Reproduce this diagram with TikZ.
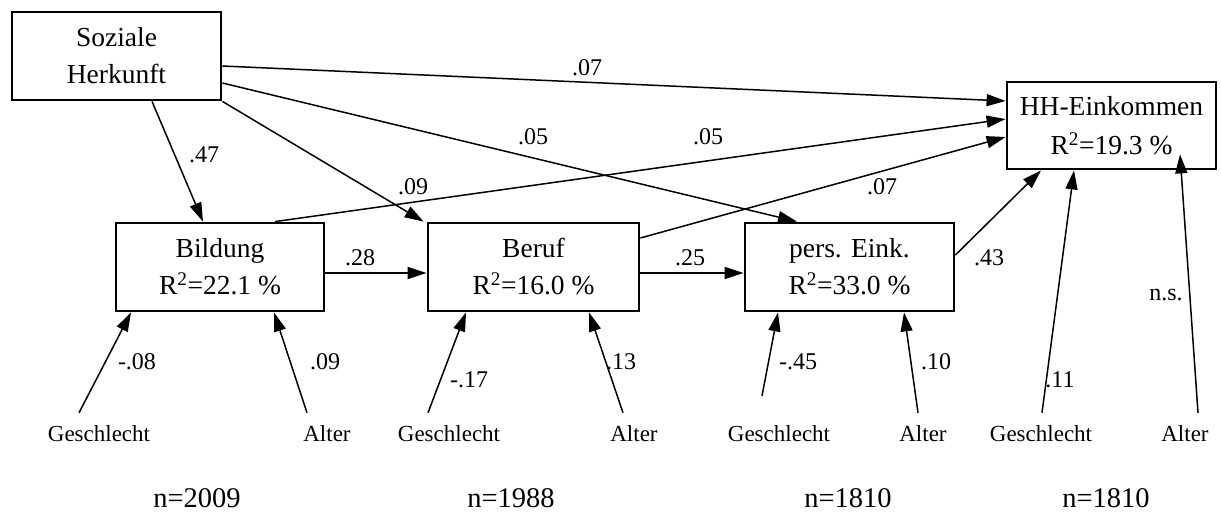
\documentclass[tikz,border=0pt]{standalone}
\usepackage{fontspec}
\setmainfont{Liberation Serif}
\usetikzlibrary{arrows.meta}
\begin{document}
\begin{tikzpicture}[x=1pt,y=-1pt,
  var/.style={draw,line width=2.8pt,align=center,inner sep=0pt,
    minimum width=209pt,minimum height=88pt,font=\fontsize{27.5}{37}\selectfont},
  link/.style={line width=1.5pt,-{Triangle[length=19pt,width=12pt]}},
  coef/.style={inner sep=0pt,font=\fontsize{24}{26}\selectfont},
  ctrl/.style={inner xsep=0pt,inner ysep=12pt,text height=16pt,text depth=0pt,
    font=\fontsize{23}{26}\selectfont},
  nlab/.style={inner sep=0pt,font=\fontsize{28.5}{30}\selectfont}]
\useasboundingbox (0,0) rectangle (1221,514);

% variables of the path model
\node[var] (soz) at (116.5,56) {Soziale\\Herkunft};
\node[var,minimum width=208pt] (bil) at (220,267) {Bildung\\R\textsuperscript{2}=22.1 \%};
\node[var,minimum width=211pt] (ber) at (533.5,267) {Beruf\\R\textsuperscript{2}=16.0 \%};
\node[var] (pers) at (849.5,267) {pers. Eink.\\R\textsuperscript{2}=33.0 \%};
\node[var,minimum height=87pt,font=\fontsize{27.5}{39}\selectfont] (hh) at (1111.5,125.5)
  {HH-Einkommen\\R\textsuperscript{2}=19.3 \%};

% control variables
\node[ctrl] (g1) at (99,433) {Geschlecht};
\node[ctrl] (a1) at (327,433) {Alter};
\node[ctrl] (g2) at (449,433) {Geschlecht};
\node[ctrl] (a2) at (634,433) {Alter};
\node[ctrl] (g3) at (779,433) {Geschlecht};
\node[ctrl] (a3) at (923,433) {Alter};
\node[ctrl] (g4) at (1041,433) {Geschlecht};
\node[ctrl] (a4) at (1185,433) {Alter};

% sample sizes
\node[nlab] (n1) at (197,498) {n=2009};
\node[nlab] (n2) at (511,498) {n=1988};
\node[nlab] (n3) at (848,498) {n=1810};
\node[nlab] (n4) at (1106,498) {n=1810};

% paths from social origin
\draw[link] ([xshift=35.5pt]soz.south) -- ([xshift=-17pt]bil.north);
\draw[link] (soz.south east) -- ([xshift=-3pt]ber.north west);
\draw[link] ([yshift=-27pt]soz.east) -- ([xshift=-52.5pt]pers.north);
\draw[link] ([yshift=-10pt]soz.east) -- ([yshift=24.5pt]hh.west);

% paths into household income
\draw[link] ([xshift=55pt]bil.north) -- ([yshift=6.5pt]hh.west);
\draw[link] ([yshift=29pt]ber.east) -- ([yshift=-11.5pt]hh.west);
\draw[link] ([yshift=12pt]pers.east) -- ([xshift=-70.5pt]hh.south);

% chain education -> occupation -> personal income
\draw[link] ([yshift=-6pt]bil.east) -- ([yshift=-6pt]ber.west);
\draw[link] ([yshift=-6pt]ber.east) -- ([yshift=-6pt]pers.west);

% effects of sex and age
\draw[link] ([xshift=-20pt]g1.north) -- ([xshift=-89pt]bil.south);
\draw[link] ([xshift=-20pt]a1.north) -- ([xshift=54pt]bil.south);
\draw[link] ([xshift=-21pt]g2.north) -- ([xshift=-67.5pt]ber.south);
\draw[link] ([xshift=-11pt]a2.north) -- ([xshift=55.5pt]ber.south);
\draw[link] ([xshift=-17pt,yshift=17pt]g3.north) -- ([xshift=-71.5pt]pers.south);
\draw[link] ([xshift=-5pt]a3.north) -- ([xshift=54.5pt]pers.south);
\draw[link] ([xshift=1pt]g4.north) -- ([xshift=-37.5pt]hh.south);
\draw[link] ([xshift=13pt]a4.north) -- ([xshift=68.5pt,yshift=16pt]hh.south);

% coefficients
\node[coef] (c1) at (204,155) {.47};
\node[coef] (c2) at (413,187) {.09};
\node[coef] (c3) at (533,137) {.05};
\node[coef] (c4) at (587,68) {.07};
\node[coef] (c5) at (708,137) {.05};
\node[coef] (c6) at (882,187) {.07};
\node[coef] (c7) at (360,258) {.28};
\node[coef] (c8) at (690,258) {.25};
\node[coef] (c9) at (989,258) {.43};
\node[coef] (c10) at (137,362) {-.08};
\node[coef] (c11) at (325,362) {.09};
\node[coef] (c12) at (469,380) {-.17};
\node[coef] (c13) at (621,362) {.13};
\node[coef] (c14) at (798,362) {-.45};
\node[coef] (c15) at (936,362) {.10};
\node[coef] (c16) at (1060,380) {.11};
\node[coef] (c17) at (1166,295) {n.s.};
\end{tikzpicture}
\end{document}
